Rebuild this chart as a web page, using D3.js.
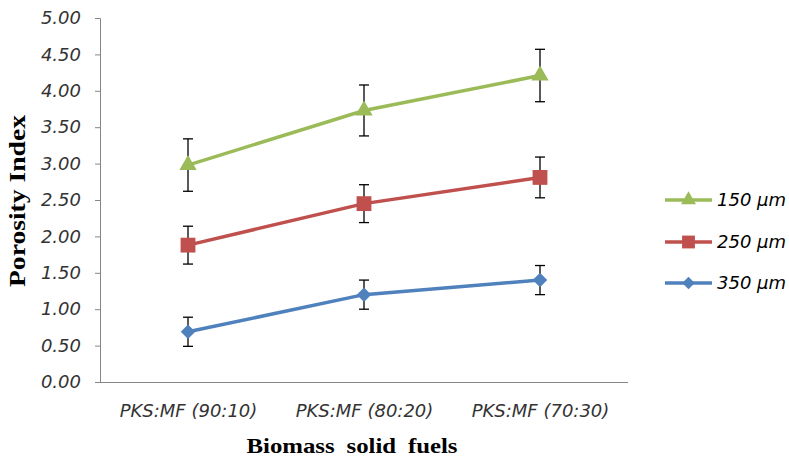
<!DOCTYPE html>
<html>
<head>
<meta charset="utf-8">
<script src="https://cdn.jsdelivr.net/npm/d3@7"></script>
<style>
  body { margin: 0; background: #fff; }
  .tick text { font-family: "DejaVu Sans", sans-serif; font-style: italic; fill: #333; }
  .axis-title { font-family: "Liberation Serif", "DejaVu Serif", serif; font-weight: bold; fill: #000; }
</style>
</head>
<body>
<div id="chart"></div>
<script>
var categories = ['PKS:MF (90:10)', 'PKS:MF (80:20)', 'PKS:MF (70:30)'];
var seriesNames = ['150 \u00b5m', '250 \u00b5m', '350 \u00b5m'];
var values150 = [2.98, 3.73, 4.21];
var errors150 = [0.36, 0.35, 0.36];
var values250 = [1.88, 2.45, 2.81];
var errors250 = [0.26, 0.26, 0.28];
var values350 = [0.69, 1.20, 1.40];
var errors350 = [0.20, 0.20, 0.20];
var yTicks = [0, 0.5, 1, 1.5, 2, 2.5, 3, 3.5, 4, 4.5, 5];

// diamond = square turned 45 degrees, like the spreadsheet marker
var series = [
  { name: seriesNames[0], values: values150, errors: errors150, color: '#9bbb59', shape: d3.symbolTriangle, size: 130, rot: 0 },
  { name: seriesNames[1], values: values250, errors: errors250, color: '#c0504d', shape: d3.symbolSquare, size: 220, rot: 0 },
  { name: seriesNames[2], values: values350, errors: errors350, color: '#4f81bd', shape: d3.symbolSquare, size: 105, rot: 45 }
];

var width = 789, height = 460;
var margin = { top: 18, left: 100, right: 161, bottom: 78 };

var svg = d3.select('#chart').append('svg')
  .attr('width', width)
  .attr('height', height);

var x = d3.scalePoint()
  .domain(categories)
  .range([margin.left, width - margin.right])
  .padding(0.5);

var y = d3.scaleLinear()
  .domain([0, 5])
  .range([height - margin.bottom, margin.top]);

// y axis
var yAxis = svg.append('g')
  .attr('transform', 'translate(' + margin.left + ',0)')
  .call(d3.axisLeft(y).tickValues(yTicks).tickFormat(d3.format('.2f')).tickSize(5).tickPadding(14));
yAxis.selectAll('.domain, .tick line').attr('stroke', '#868686');
yAxis.selectAll('.tick text').style('font-size', '18px');

// x axis
var xAxis = svg.append('g')
  .attr('transform', 'translate(0,' + (height - margin.bottom) + ')')
  .call(d3.axisBottom(x).tickSize(0).tickPadding(22).tickSizeOuter(0));
xAxis.select('.domain').attr('stroke', '#868686').attr('d', 'M' + margin.left + ',0.5H' + (width - margin.right));
xAxis.selectAll('.tick text').style('font-size', '18px');

svg.append('text')
  .attr('class', 'axis-title')
  .attr('transform', 'translate(25,201) rotate(-90)')
  .attr('text-anchor', 'middle')
  .attr('textLength', 172)
  .attr('lengthAdjust', 'spacingAndGlyphs')
  .style('font-size', '23px')
  .text('Porosity Index');

svg.append('text')
  .attr('class', 'axis-title')
  .attr('x', 352)
  .attr('y', 453)
  .attr('text-anchor', 'middle')
  .attr('textLength', 211)
  .attr('lengthAdjust', 'spacingAndGlyphs')
  .style('font-size', '22px')
  .style('word-spacing', '5px')
  .text('Biomass solid fuels');

var line = d3.line()
  .x(function(d, i) { return x(categories[i]); })
  .y(function(d) { return y(d); });

series.forEach(function(s) {
  var g = svg.append('g');

  g.append('path')
    .datum(s.values)
    .attr('d', line)
    .attr('fill', 'none')
    .attr('stroke', s.color)
    .attr('stroke-width', 3.5);

  var bars = g.selectAll('.err')
    .data(s.values)
    .enter().append('g')
    .attr('stroke', '#000')
    .attr('stroke-width', 1.3);
  bars.append('line')
    .attr('x1', function(d, i) { return x(categories[i]); })
    .attr('x2', function(d, i) { return x(categories[i]); })
    .attr('y1', function(d, i) { return y(d + s.errors[i]); })
    .attr('y2', function(d, i) { return y(d - s.errors[i]); });
  bars.append('line')
    .attr('x1', function(d, i) { return x(categories[i]) - 5; })
    .attr('x2', function(d, i) { return x(categories[i]) + 5; })
    .attr('y1', function(d, i) { return y(d + s.errors[i]); })
    .attr('y2', function(d, i) { return y(d + s.errors[i]); });
  bars.append('line')
    .attr('x1', function(d, i) { return x(categories[i]) - 5; })
    .attr('x2', function(d, i) { return x(categories[i]) + 5; })
    .attr('y1', function(d, i) { return y(d - s.errors[i]); })
    .attr('y2', function(d, i) { return y(d - s.errors[i]); });

  g.selectAll('.mark')
    .data(s.values)
    .enter().append('path')
    .attr('d', d3.symbol().type(s.shape).size(s.size))
    .attr('transform', function(d, i) { return 'translate(' + x(categories[i]) + ',' + y(d) + ') rotate(' + s.rot + ')'; })
    .attr('fill', s.color);
});

// legend
var legend = svg.append('g').attr('transform', 'translate(665,0)');
var legendY = [200, 242, 283];
series.forEach(function(s, i) {
  var row = legend.append('g').attr('transform', 'translate(0,' + legendY[i] + ')');
  row.append('line')
    .attr('x1', 0).attr('x2', 47)
    .attr('stroke', s.color)
    .attr('stroke-width', 3.5);
  row.append('path')
    .attr('d', d3.symbol().type(s.shape).size(s.size * 0.75))
    .attr('transform', 'translate(23.5,0) rotate(' + s.rot + ')')
    .attr('fill', s.color);
  row.append('text')
    .attr('x', 52)
    .attr('dy', '0.35em')
    .style('font-family', '"DejaVu Sans", sans-serif')
    .style('font-style', 'italic')
    .style('font-size', '18px')
    .attr('fill', '#000')
    .text(s.name);
});
</script>
</body>
</html>
